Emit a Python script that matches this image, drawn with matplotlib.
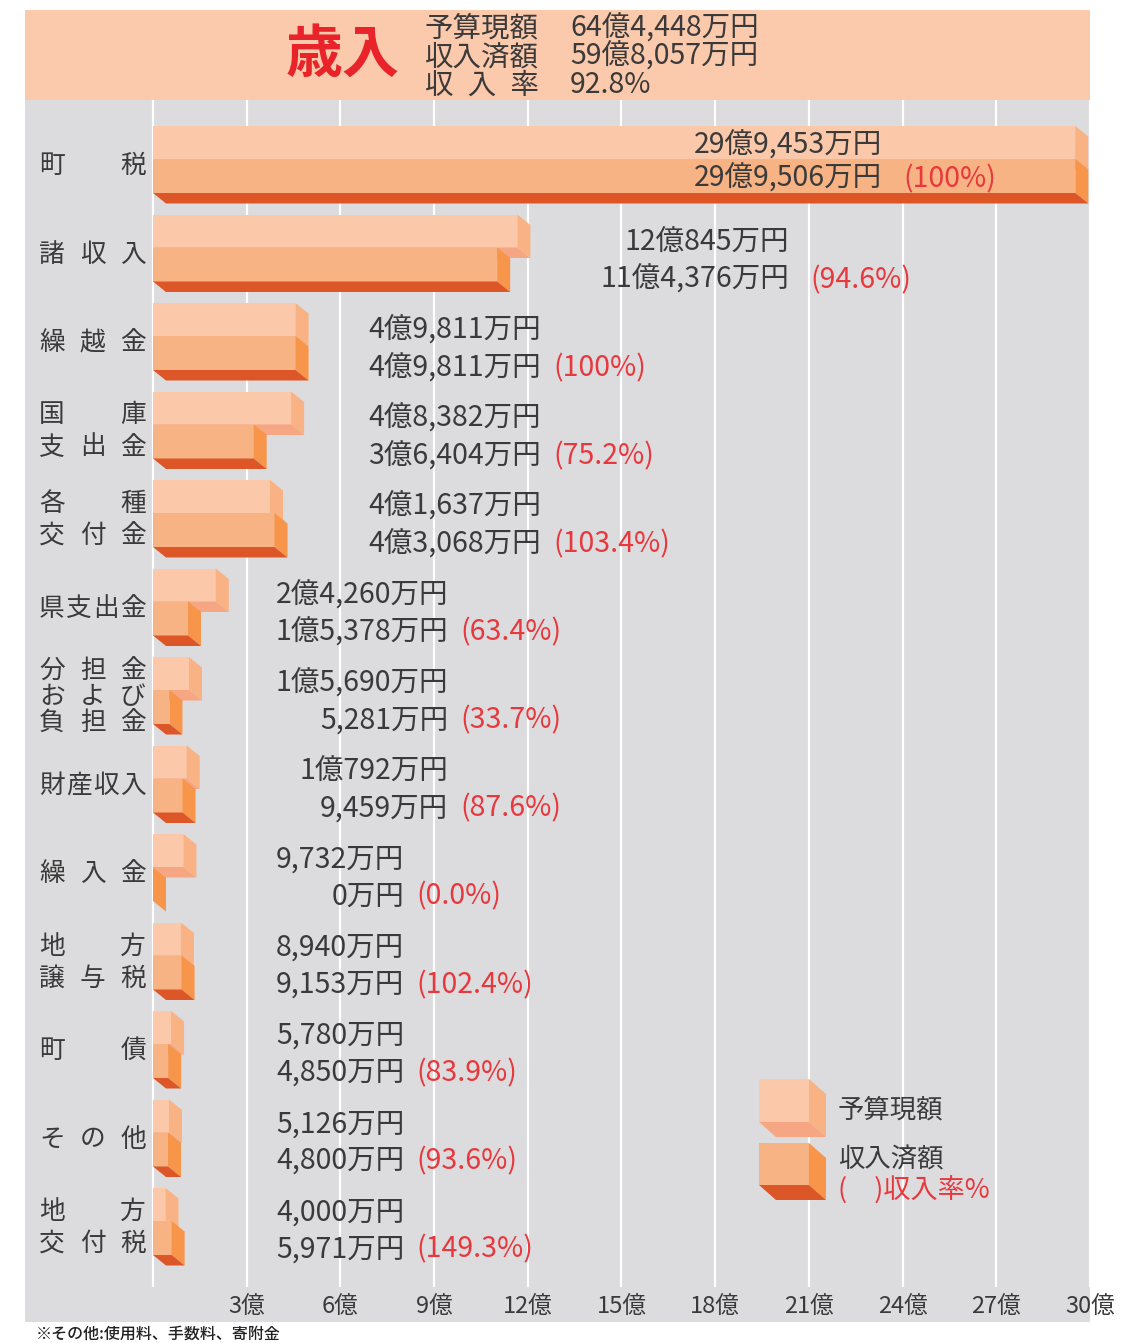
import matplotlib
matplotlib.use("Agg")
import matplotlib.pyplot as plt
from matplotlib.patches import Rectangle, Polygon

plt.rcParams['font.family'] = ['Noto Sans CJK JP', 'DejaVu Sans']

# ---------------- data ----------------
categories = [
    ["町税"], ["諸収入"], ["繰越金"], ["国庫", "支出金"], ["各種", "交付金"],
    ["県支出金"], ["分担金", "および", "負担金"], ["財産収入"], ["繰入金"],
    ["地方", "譲与税"], ["町債"], ["その他"], ["地方", "交付税"],
]
budget_man = [299453, 120845, 49811, 48382, 41637, 24260, 15690, 10792, 9732, 8940, 5780, 5126, 4000]
actual_man = [299506, 114376, 49811, 36404, 43068, 15378, 5281, 9459, 0, 9153, 4850, 4800, 5971]
rate_labels = ["(100%)", "(94.6%)", "(100%)", "(75.2%)", "(103.4%)", "(63.4%)", "(33.7%)",
               "(87.6%)", "(0.0%)", "(102.4%)", "(83.9%)", "(93.6%)", "(149.3%)"]
x_ticks = [3, 6, 9, 12, 15, 18, 21, 24, 27, 30]
header_names = ["予算現額", "収\u2002入\u2002率"]
header_names = ["予算現額", "収入済額", "収\u2002入\u2002率"]
header_values = ["64億4,448万円", "59億8,057万円", "92.8%"]

# ---------------- layout / style ----------------
W, H = 1123, 1343
PXX = 31.23          # px per 億
PXY = 88.5           # px per group
AX_L, AX_R, AX_T, AX_B = 25, 1090, 100, 1322
X0PX = 153
DX = 13 / PXX
DY = 10.5 / PXY
HB = 33 / PXY
HA = 34 / PXY
TOP0 = 26 / PXY

C_BG = '#DCDCDE'
C_HEAD = '#FBC9AC'
C_B = ('#FBC8AA', '#F9B283', '#F6A683')
C_A = ('#F8B384', '#F7954A', '#DC5627')
C_TXT = '#3A3A3A'
C_RED = '#E8383D'
FS_VAL = 20.5

label_right = [23.34, 20.37, 12.42, 12.42, 12.42, 9.45, 9.45, 9.45, 8.04, 8.04, 8.04, 8.04, 8.04]

fig = plt.figure(figsize=(W / 100, H / 100), dpi=100)
fig.patch.set_facecolor('white')


def fx(px):
    return px / W


def fy(py):
    return 1 - py / H


# header band
fig.patches.append(Rectangle((fx(25), fy(100)), fx(1065), 90 / H, transform=fig.transFigure,
                             facecolor=C_HEAD, edgecolor='none', zorder=0))

ax = fig.add_axes([fx(AX_L), fy(AX_B), (AX_R - AX_L) / W, (AX_B - AX_T) / H])
ax.set_facecolor(C_BG)
for s in ax.spines.values():
    s.set_visible(False)
ax.set_xticks([])
ax.set_yticks([])
ax.set_xlim(-(X0PX - AX_L) / PXX, (AX_R - X0PX) / PXX)
ax.set_ylim((AX_B - AX_T) / PXY, 0)

grid_bottom = (1287 - AX_T) / PXY
ax.vlines([0] + x_ticks, 0, grid_bottom, colors='white', lw=1.6, zorder=1)
for t in x_ticks:
    ax.text(t, (1307 - AX_T) / PXY, f"{t}億", ha='center', va='center', fontsize=17, color=C_TXT)


def bar3d(y0, h, v, cols, dx=DX, dy=DY, x0=0.0, minfront=True):
    if minfront:
        front = v if v < 1.3 else v - dx
    else:
        front = v
    f, s, b = cols
    ax.add_patch(Rectangle((x0, y0), front, h, facecolor=f, edgecolor='none', zorder=3))
    ax.add_patch(Polygon([(x0 + front, y0), (x0 + front + dx, y0 + dy), (x0 + front + dx, y0 + h + dy),
                          (x0 + front, y0 + h)], closed=True, facecolor=s, edgecolor='none', zorder=3))
    ax.add_patch(Polygon([(x0, y0 + h), (x0 + front, y0 + h), (x0 + front + dx, y0 + h + dy),
                          (x0 + dx, y0 + h + dy)], closed=True, facecolor=b, edgecolor='none', zorder=3))


def yen(v):
    oku, man = divmod(v, 10000)
    if oku:
        return f"{oku}億{man:,}万円"
    return f"{man:,}万円"


def spread(chars, xl, xr, y, **kw):
    n = len(chars)
    if n == 1:
        ax.text((xl + xr) / 2, y, chars, ha='center', va='center', **kw)
        return
    for k, ch in enumerate(chars):
        ax.text(xl + (xr - xl) * k / (n - 1), y, ch, ha='center', va='center', **kw)


cx_l = (52 - X0PX) / PXX
cx_r = (133 - X0PX) / PXX

for i, (lines, b, a, r) in enumerate(zip(categories, budget_man, actual_man, rate_labels)):
    top = TOP0 + i
    bar3d(top, HB, b / 10000, C_B)
    bar3d(top + HB, HA, a / 10000, C_A)

    # category label
    cy = top + 40 / PXY
    n = len(lines)
    step = 32 / PXY if n == 2 else 26 / PXY
    for k, ln in enumerate(lines):
        yy = cy + (k - (n - 1) / 2) * step
        spread(list(ln), cx_l, cx_r, yy, fontsize=18.5, color=C_TXT)

    # value labels
    inside = label_right[i] < b / 10000
    if inside:
        yb = top + 20 / PXY
        ya = top + 53 / PXY
    else:
        yb = top + (28.5 - 0.35 * i) / PXY
        ya = top + (66 - 0.4 * i) / PXY
    gap = (21 if i < 2 else 12) / PXX
    ax.text(label_right[i], yb, yen(b), ha='right', va='center', fontsize=FS_VAL, color=C_TXT, zorder=5)
    ax.text(label_right[i], ya, yen(a), ha='right', va='center', fontsize=FS_VAL, color=C_TXT, zorder=5)
    ax.text(label_right[i] + gap, ya, r, ha='left', va='center', fontsize=FS_VAL, color=C_RED, zorder=5)

# legend
lx = (759 - X0PX) / PXX
lw_ = 50 / PXX
ldx = 17 / PXX
ldy = 15 / PXY
bar3d((1079 - AX_T) / PXY, 43 / PXY, lw_, C_B, dx=ldx, dy=ldy, x0=lx, minfront=False)
bar3d((1143 - AX_T) / PXY, 42 / PXY, lw_, C_A, dx=ldx, dy=ldy, x0=lx, minfront=False)
tx = (838 - X0PX) / PXX
ax.text(tx, (1110 - AX_T) / PXY, "予算現額", ha='left', va='center', fontsize=19, color=C_TXT)
ax.text(tx, (1160 - AX_T) / PXY, "収入済額", ha='left', va='center', fontsize=19, color=C_TXT)
ax.text(tx, (1191 - AX_T) / PXY, "(　)収入率%", ha='left', va='center', fontsize=19.5, color=C_RED)

# header texts
fig.text(fx(343), fy(55), "歳入", ha='center', va='center', fontsize=41, fontweight='bold', color='#E8232A')
fig.text(fx(425), fy(57), "\n".join(header_names), ha='left', va='center', fontsize=20.5,
         color=C_TXT, linespacing=0.93, multialignment='left')
fig.text(fx(570), fy(57), "\n".join(header_values), ha='left', va='center', fontsize=20.5,
         color=C_TXT, linespacing=0.93, multialignment='left')

fig.text(fx(36), fy(1334), "※その他:使用料、手数料、寄附金", ha='left', va='center', fontsize=11.5,
         color='#222222', fontweight='medium')

fig.savefig("out.png", dpi=100)
